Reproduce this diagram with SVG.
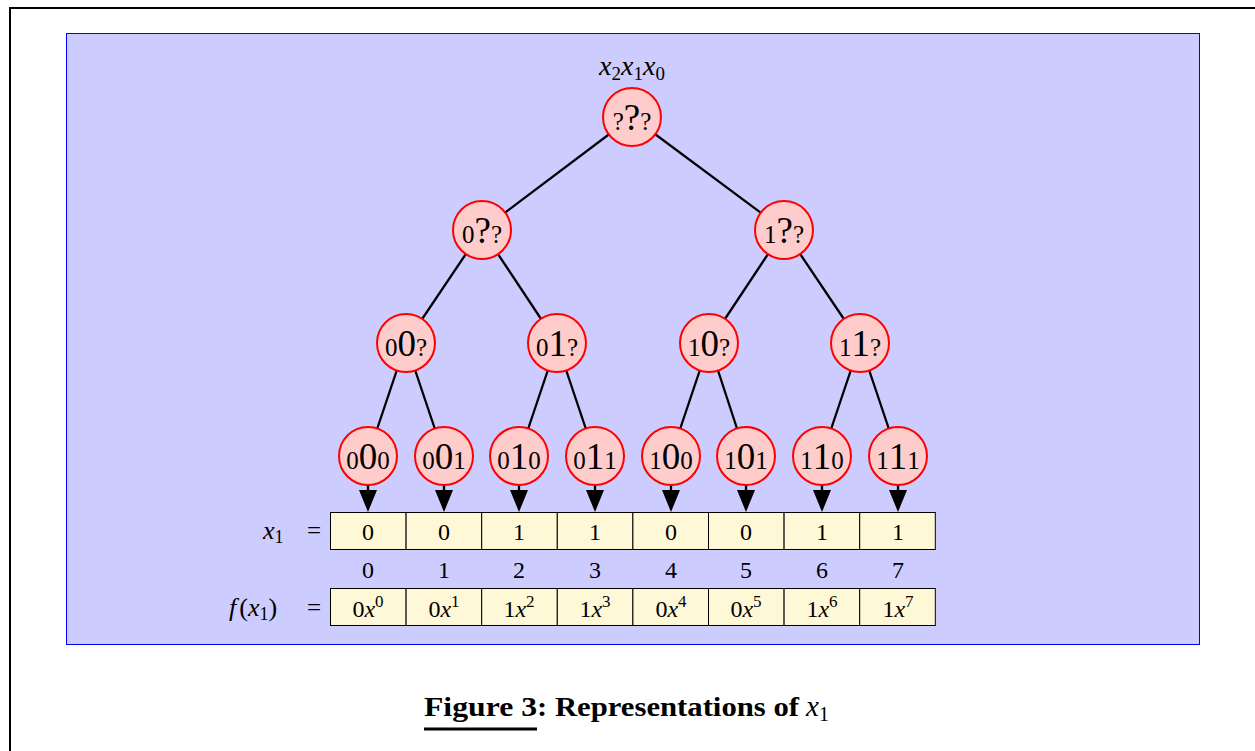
<svg xmlns="http://www.w3.org/2000/svg" width="1255" height="751" viewBox="0 0 1255 751">
<style>
.t{font-family:"Liberation Serif","DejaVu Serif",serif;fill:#000}
.i{font-style:italic}
.nd circle{fill:#ffcccc;stroke:#ff0000;stroke-width:2}
.nd text{font-family:"Liberation Serif","DejaVu Serif",serif;text-anchor:middle}
.big{font-size:37px}
.sm{font-size:25px}
.cell{fill:#fff8d6;stroke:#000;stroke-width:1}
.edge{stroke:#000;stroke-width:2.3;fill:none}
.lbl{font-size:24px;text-anchor:middle}
.sup{font-size:17px}
</style>
<rect width="1255" height="751" fill="#fff"/>
<path d="M10,751 V8 H1255" fill="none" stroke="#000" stroke-width="2"/>
<rect x="66.5" y="33.5" width="1133" height="611" fill="#ccccff" stroke="#0000ff" stroke-width="1"/>
<g id="connectors">
<line class="edge" x1="632" y1="117" x2="482" y2="230"/>
<line class="edge" x1="632" y1="117" x2="784" y2="230"/>
<line class="edge" x1="482" y1="230" x2="406" y2="343"/>
<line class="edge" x1="482" y1="230" x2="557" y2="343"/>
<line class="edge" x1="784" y1="230" x2="709" y2="343"/>
<line class="edge" x1="784" y1="230" x2="860" y2="343"/>
<line class="edge" x1="406" y1="343" x2="368" y2="456"/>
<line class="edge" x1="406" y1="343" x2="444" y2="456"/>
<line class="edge" x1="557" y1="343" x2="519" y2="456"/>
<line class="edge" x1="557" y1="343" x2="595" y2="456"/>
<line class="edge" x1="709" y1="343" x2="671" y2="456"/>
<line class="edge" x1="709" y1="343" x2="746" y2="456"/>
<line class="edge" x1="860" y1="343" x2="822" y2="456"/>
<line class="edge" x1="860" y1="343" x2="898" y2="456"/>
<g fill="#000">
<path d="M359,490 L377,490 L368,512 z"/>
<path d="M435,490 L453,490 L444,512 z"/>
<path d="M510,490 L528,490 L519,512 z"/>
<path d="M586,490 L604,490 L595,512 z"/>
<path d="M662,490 L680,490 L671,512 z"/>
<path d="M737,490 L755,490 L746,512 z"/>
<path d="M813,490 L831,490 L822,512 z"/>
<path d="M889,490 L907,490 L898,512 z"/>
</g>
<g stroke="#000" stroke-width="2.3">
<line x1="368" y1="484" x2="368" y2="492"/>
<line x1="444" y1="484" x2="444" y2="492"/>
<line x1="519" y1="484" x2="519" y2="492"/>
<line x1="595" y1="484" x2="595" y2="492"/>
<line x1="671" y1="484" x2="671" y2="492"/>
<line x1="746" y1="484" x2="746" y2="492"/>
<line x1="822" y1="484" x2="822" y2="492"/>
<line x1="898" y1="484" x2="898" y2="492"/>
</g>
</g>
<text class="t" x="632" y="75" font-size="28" text-anchor="middle"><tspan class="i">x</tspan><tspan font-size="19" dy="5">2</tspan><tspan class="i" dy="-5">x</tspan><tspan font-size="19" dy="5">1</tspan><tspan class="i" dy="-5">x</tspan><tspan font-size="19" dy="5">0</tspan></text>
<g id="n_root" class="nd"><circle cx="632" cy="117" r="29"/><text x="632" y="130"><tspan class="sm">?</tspan><tspan class="big">?</tspan><tspan class="sm">?</tspan></text></g>
<g id="n_0" class="nd"><circle cx="482" cy="230" r="29"/><text x="482" y="243"><tspan class="sm">0</tspan><tspan class="big">?</tspan><tspan class="sm">?</tspan></text></g>
<g id="n_1" class="nd"><circle cx="784" cy="230" r="29"/><text x="784" y="243"><tspan class="sm">1</tspan><tspan class="big">?</tspan><tspan class="sm">?</tspan></text></g>
<g id="n_00" class="nd"><circle cx="406" cy="343" r="29"/><text x="406" y="356"><tspan class="sm">0</tspan><tspan class="big">0</tspan><tspan class="sm">?</tspan></text></g>
<g id="n_01" class="nd"><circle cx="557" cy="343" r="29"/><text x="557" y="356"><tspan class="sm">0</tspan><tspan class="big">1</tspan><tspan class="sm">?</tspan></text></g>
<g id="n_10" class="nd"><circle cx="709" cy="343" r="29"/><text x="709" y="356"><tspan class="sm">1</tspan><tspan class="big">0</tspan><tspan class="sm">?</tspan></text></g>
<g id="n_11" class="nd"><circle cx="860" cy="343" r="29"/><text x="860" y="356"><tspan class="sm">1</tspan><tspan class="big">1</tspan><tspan class="sm">?</tspan></text></g>
<g id="n_000" class="nd"><circle cx="368" cy="456" r="29"/><text x="368" y="469"><tspan class="sm">0</tspan><tspan class="big">0</tspan><tspan class="sm">0</tspan></text></g>
<g id="n_001" class="nd"><circle cx="444" cy="456" r="29"/><text x="444" y="469"><tspan class="sm">0</tspan><tspan class="big">0</tspan><tspan class="sm">1</tspan></text></g>
<g id="n_010" class="nd"><circle cx="519" cy="456" r="29"/><text x="519" y="469"><tspan class="sm">0</tspan><tspan class="big">1</tspan><tspan class="sm">0</tspan></text></g>
<g id="n_011" class="nd"><circle cx="595" cy="456" r="29"/><text x="595" y="469"><tspan class="sm">0</tspan><tspan class="big">1</tspan><tspan class="sm">1</tspan></text></g>
<g id="n_100" class="nd"><circle cx="671" cy="456" r="29"/><text x="671" y="469"><tspan class="sm">1</tspan><tspan class="big">0</tspan><tspan class="sm">0</tspan></text></g>
<g id="n_101" class="nd"><circle cx="746" cy="456" r="29"/><text x="746" y="469"><tspan class="sm">1</tspan><tspan class="big">0</tspan><tspan class="sm">1</tspan></text></g>
<g id="n_110" class="nd"><circle cx="822" cy="456" r="29"/><text x="822" y="469"><tspan class="sm">1</tspan><tspan class="big">1</tspan><tspan class="sm">0</tspan></text></g>
<g id="n_111" class="nd"><circle cx="898" cy="456" r="29"/><text x="898" y="469"><tspan class="sm">1</tspan><tspan class="big">1</tspan><tspan class="sm">1</tspan></text></g>
<g id="row_x1">
<text class="t" x="263" y="539" font-size="26"><tspan class="i">x</tspan><tspan font-size="18" dy="4">1</tspan></text>
<text class="t" x="314" y="539" font-size="25" text-anchor="middle">=</text>
<rect class="cell" x="330.5" y="512.5" width="75.6" height="37"/>
<rect class="cell" x="406.1" y="512.5" width="75.6" height="37"/>
<rect class="cell" x="481.7" y="512.5" width="75.6" height="37"/>
<rect class="cell" x="557.3" y="512.5" width="75.6" height="37"/>
<rect class="cell" x="632.9" y="512.5" width="75.6" height="37"/>
<rect class="cell" x="708.5" y="512.5" width="75.6" height="37"/>
<rect class="cell" x="784.1" y="512.5" width="75.6" height="37"/>
<rect class="cell" x="859.7" y="512.5" width="75.6" height="37"/>
<g class="t lbl">
<text x="368" y="540">0</text><text x="444" y="540">0</text><text x="519" y="540">1</text><text x="595" y="540">1</text>
<text x="671" y="540">0</text><text x="746" y="540">0</text><text x="822" y="540">1</text><text x="898" y="540">1</text>
</g>
</g>
<g id="indices" class="t lbl">
<text x="368" y="578">0</text><text x="444" y="578">1</text><text x="519" y="578">2</text><text x="595" y="578">3</text>
<text x="671" y="578">4</text><text x="746" y="578">5</text><text x="822" y="578">6</text><text x="898" y="578">7</text>
</g>
<g id="row_f">
<text class="t" x="229" y="616" font-size="26"><tspan class="i">f</tspan><tspan dx="3">(</tspan><tspan class="i">x</tspan><tspan font-size="18" dy="4">1</tspan><tspan dy="-4">)</tspan></text>
<text class="t" x="314" y="616" font-size="25" text-anchor="middle">=</text>
<rect class="cell" x="330.5" y="588.5" width="75.6" height="37"/>
<rect class="cell" x="406.1" y="588.5" width="75.6" height="37"/>
<rect class="cell" x="481.7" y="588.5" width="75.6" height="37"/>
<rect class="cell" x="557.3" y="588.5" width="75.6" height="37"/>
<rect class="cell" x="632.9" y="588.5" width="75.6" height="37"/>
<rect class="cell" x="708.5" y="588.5" width="75.6" height="37"/>
<rect class="cell" x="784.1" y="588.5" width="75.6" height="37"/>
<rect class="cell" x="859.7" y="588.5" width="75.6" height="37"/>
<g class="t lbl">
<text x="368" y="617">0<tspan class="i">x</tspan><tspan class="sup" dy="-10">0</tspan></text>
<text x="444" y="617">0<tspan class="i">x</tspan><tspan class="sup" dy="-10">1</tspan></text>
<text x="519" y="617">1<tspan class="i">x</tspan><tspan class="sup" dy="-10">2</tspan></text>
<text x="595" y="617">1<tspan class="i">x</tspan><tspan class="sup" dy="-10">3</tspan></text>
<text x="671" y="617">0<tspan class="i">x</tspan><tspan class="sup" dy="-10">4</tspan></text>
<text x="746" y="617">0<tspan class="i">x</tspan><tspan class="sup" dy="-10">5</tspan></text>
<text x="822" y="617">1<tspan class="i">x</tspan><tspan class="sup" dy="-10">6</tspan></text>
<text x="898" y="617">1<tspan class="i">x</tspan><tspan class="sup" dy="-10">7</tspan></text>
</g>
</g>
<g id="caption">
<text class="t" x="424" y="716" font-size="27" font-weight="bold"><tspan textLength="113" lengthAdjust="spacingAndGlyphs">Figure 3</tspan><tspan x="537" textLength="262" lengthAdjust="spacingAndGlyphs">: Representations of</tspan><tspan class="i" font-weight="normal" x="806" font-size="29">x</tspan><tspan font-size="20" font-weight="normal" dy="5">1</tspan></text>
<line x1="424" y1="729" x2="537" y2="729" stroke="#000" stroke-width="3"/>
</g>
</svg>
